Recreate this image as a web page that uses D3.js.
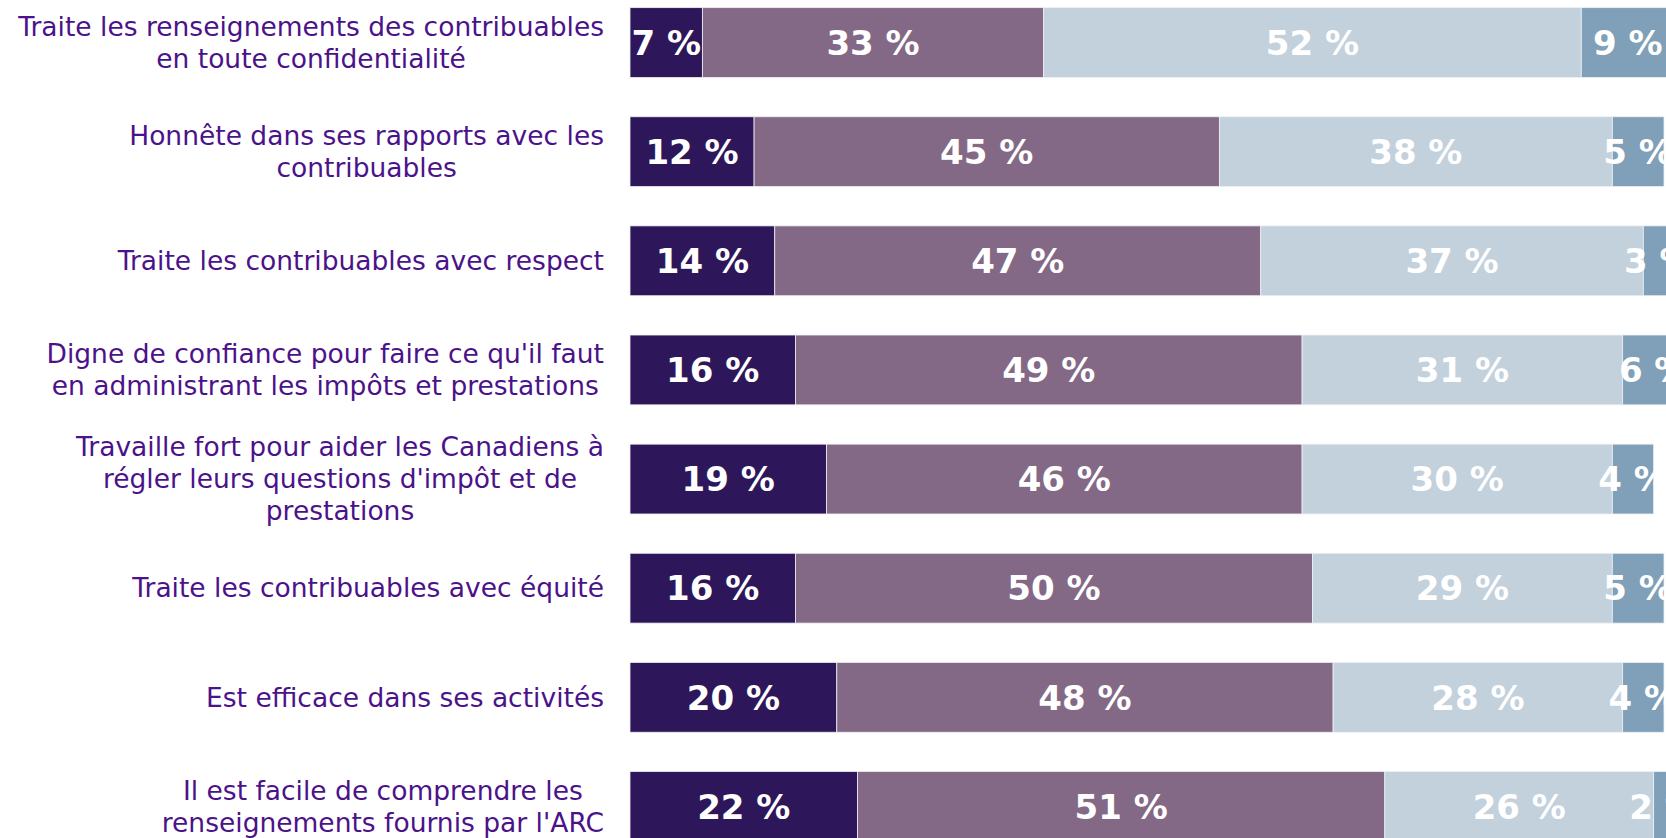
<!DOCTYPE html>
<html>
<head>
<meta charset="utf-8">
<script src="https://cdn.jsdelivr.net/npm/d3@7"></script>
<style>
  body { margin: 0; background: #fff; }
  svg { display: block; }
</style>
</head>
<body>
<svg id="chart"></svg>
<script>
// rows, top to bottom
const categories = [
  ["Traite les renseignements des contribuables", "en toute confidentialité"],
  ["Honnête dans ses rapports avec les", "contribuables"],
  ["Traite les contribuables avec respect"],
  ["Digne de confiance pour faire ce qu'il faut", "en administrant les impôts et prestations"],
  ["Travaille fort pour aider les Canadiens à", "régler leurs questions d'impôt et de", "prestations"],
  ["Traite les contribuables avec équité"],
  ["Est efficace dans ses activités"],
  ["Il est facile de comprendre les", "renseignements fournis par l'ARC"]
];

// four answer levels, one value per row
const level1 = [7, 12, 14, 16, 19, 16, 20, 22];
const level2 = [33, 45, 47, 49, 46, 50, 48, 51];
const level3 = [52, 38, 37, 31, 30, 29, 28, 26];
const level4 = [9, 5, 3, 6, 4, 5, 4, 2];

const colors = ["#2d175a", "#846987", "#c3d1dc", "#7fa0b8"];

const width = 1666, height = 838;

const svg = d3.select("#chart")
    .attr("width", width)
    .attr("height", height);

const rows = categories.map(function (c, i) {
  return { id: i, lines: c, v0: level1[i], v1: level2[i], v2: level3[i], v3: level4[i] };
});

const keys = ["v0", "v1", "v2", "v3"];
const stacked = d3.stack().keys(keys)(rows);

const x = d3.scaleLinear()
    .domain([0, 100])
    .range([630, 1664]);

const y = d3.scaleBand()
    .domain(rows.map(d => d.id))
    .range([-12, 861])
    .paddingInner(0.36)
    .paddingOuter(0.18);

// bars
const layer = svg.selectAll("g.layer")
    .data(stacked)
    .enter()
    .append("g")
    .attr("class", "layer")
    .attr("fill", (d, i) => colors[i]);

layer.selectAll("rect")
    .data(d => d)
    .enter()
    .append("rect")
    .attr("x", d => x(d[0]))
    .attr("y", d => y(d.data.id))
    .attr("width", d => x(d[1]) - x(d[0]))
    .attr("height", y.bandwidth())
    .attr("stroke", "#eef0f4")
    .attr("stroke-width", 0.8);

// value labels
layer.selectAll("text")
    .data(d => d)
    .enter()
    .append("text")
    .attr("x", d => (x(d[0]) + x(d[1])) / 2)
    .attr("y", d => y(d.data.id) + y.bandwidth() / 2)
    .attr("dy", "0.36em")
    .attr("text-anchor", "middle")
    .attr("fill", "#fff")
    .style("font-family", "'DejaVu Sans', Verdana, sans-serif")
    .style("font-weight", "bold")
    .style("font-size", "34px")
    .text(d => (d[1] - d[0]) + " %");

// category labels: lines centred on each other, block right-aligned
const labelRight = 604, lineH = 32;

const lab = svg.selectAll("g.cat")
    .data(rows)
    .enter()
    .append("g")
    .attr("class", "cat");

lab.each(function (d) {
  const g = d3.select(this);
  const cy = y(d.id) + y.bandwidth() / 2;
  const n = d.lines.length;
  const t = g.selectAll("text")
      .data(d.lines)
      .enter()
      .append("text")
      .attr("y", (l, j) => cy + (j - (n - 1) / 2) * lineH)
      .attr("dy", "0.35em")
      .attr("text-anchor", "middle")
      .attr("fill", "#4b128a")
      .style("font-family", "'DejaVu Sans', Verdana, sans-serif")
      .style("font-size", "26.5px")
      .text(l => l);
  let maxW = 0;
  t.each(function () { maxW = Math.max(maxW, this.getComputedTextLength()); });
  t.attr("x", labelRight - maxW / 2);
});
</script>
</body>
</html>
